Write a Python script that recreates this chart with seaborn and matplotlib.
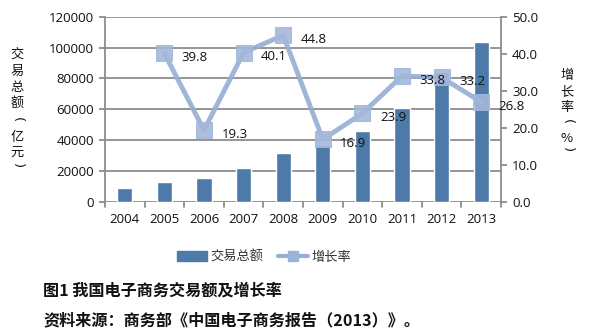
import matplotlib
matplotlib.use("Agg")
import matplotlib.pyplot as plt
import seaborn as sns
import pandas as pd
import numpy as np
from matplotlib.lines import Line2D
from matplotlib.patches import Patch

years = ["2004", "2005", "2006", "2007", "2008", "2009", "2010", "2011", "2012", "2013"]
volume = [9300, 12900, 15500, 21700, 31500, 36700, 45800, 61000, 84500, 103300]
growth_years = ["2005", "2006", "2007", "2008", "2009", "2010", "2011", "2012", "2013"]
growth = [40.1, 19.4, 40.3, 45.0, 16.9, 23.9, 34.0, 33.6, 27.0]
growth_labels = ["39.8", "19.3", "40.1", "44.8", "16.9", "23.9", "33.8", "33.2", "26.8"]
left_title = "交易总额（亿元）"
right_title = "增长率（%）"

sns.set_theme(style="white")
plt.rcParams['font.family'] = ['Open Sans', 'Noto Sans CJK SC', 'DejaVu Sans']
cjk = ['Noto Sans CJK SC', 'DejaVu Sans']

fig = plt.figure(figsize=(5.91, 3.30), dpi=100)
ax = fig.add_axes([105/591, 1 - 202/330, 396/591, (202 - 16.7)/330])

bar_color = "#4d7aa8"
line_color = "#95aed4"
grid_color = "#8c8c8c"

df = pd.DataFrame({"year": years, "volume": volume})
sns.barplot(data=df, x="year", y="volume", color=bar_color, width=0.38, ax=ax,
            saturation=1, zorder=2)
ax.set_ylim(0, 120000)
ax.set_yticks(np.arange(0, 120001, 20000))
ax.set_xlim(-0.5, len(years) - 0.5)
ax.yaxis.grid(True, color=grid_color, linewidth=1.3, zorder=0)
ax.set_axisbelow(True)
ax.set_xlabel("")
ax.set_ylabel("")
for s in ["top", "right", "bottom"]:
    ax.spines[s].set_visible(False)
ax.spines["left"].set_color(grid_color)
ax.spines["left"].set_linewidth(1.3)
ax.tick_params(axis="y", length=4, color=grid_color, width=1.3, direction="out",
               labelsize=9.5, labelcolor="#111111", pad=4, left=True)
ax.tick_params(axis="x", length=0, labelsize=9.5, labelcolor="#111111", pad=8)
for b in np.arange(-0.5, len(years), 1.0):
    ax.plot([b, b], [0, -0.025], transform=ax.get_xaxis_transform(),
            color=grid_color, lw=1.3, clip_on=False, zorder=3)

ax2 = ax.twinx()
gdf = pd.DataFrame({"pos": [years.index(y) for y in growth_years], "growth": growth})
sns.lineplot(data=gdf, x="pos", y="growth", ax=ax2, color=line_color, linewidth=3.5,
             marker="s", markersize=11, markerfacecolor="#a3b8da",
             markeredgecolor="#a3b8da", alpha=0.9, zorder=4)
ax2.set_ylim(0, 50)
ax2.set_yticks(np.arange(0, 50.1, 10))
ax2.set_yticklabels([f"{v:.1f}" for v in np.arange(0, 50.1, 10)])
ax2.set_xlim(-0.5, len(years) - 0.5)
ax2.set_xlabel("")
ax2.set_ylabel("")
for s in ["top", "left", "bottom"]:
    ax2.spines[s].set_visible(False)
ax2.spines["right"].set_color(grid_color)
ax2.spines["right"].set_linewidth(1.3)
ax2.tick_params(axis="y", length=4, color=grid_color, width=1.3, direction="out",
                labelsize=9.5, labelcolor="#111111", pad=4, right=True)
ax2.grid(False)

for p, v, lab in zip(gdf["pos"], growth, growth_labels):
    ax2.annotate(lab, (p, v), xytext=(22, -3), textcoords="offset points",
                 ha="center", va="center", fontsize=9.5, color="#111111", zorder=5)

# vertical axis titles, one upright character per line; brackets turned to vertical form
def vtitle(xpx, ys, text):
    for ch, y in zip(text, ys):
        if ch in "（）":
            fig.text(xpx/591, 1 - y/330, "(" if ch == "（" else ")", family=["DejaVu Sans"],
                     fontsize=9.5, rotation=-90, ha="center", va="center", color="#111111")
        else:
            fig.text(xpx/591, 1 - y/330, ch, family=cjk, fontsize=9.5,
                     ha="center", va="center", color="#111111")

vtitle(17, [55, 71, 87, 103, 120, 137, 152, 166], left_title)
vtitle(567, [75, 92, 107, 122, 138, 150], right_title)

handles = [Patch(facecolor=bar_color, edgecolor=bar_color),
           Line2D([0], [0], color=line_color, lw=3, marker="s", markersize=7,
                  markerfacecolor="#9cb3d8", markeredgecolor="#9cb3d8")]
fig.legend(handles, ["交易总额", "增长率"], loc="center", bbox_to_anchor=(264/591, 1 - 257/330),
           ncol=2, frameon=False, prop={"family": cjk, "size": 9.5},
           labelcolor="#333333",
           handlelength=2.3, handleheight=0.7, columnspacing=1.1, handletextpad=0.25)

fig.text(43/591, 1 - 290/330, "图1 我国电子商务交易额及增长率", family=cjk, fontsize=11.6,
         fontweight="bold", ha="left", va="center", color="#111111")
fig.text(43/591, 1 - 320/330, "资料来源：商务部《中国电子商务报告（2013）》。", family=cjk,
         fontsize=11.6, fontweight="bold", ha="left", va="center", color="#111111")

fig.savefig("out.png", dpi=100)
